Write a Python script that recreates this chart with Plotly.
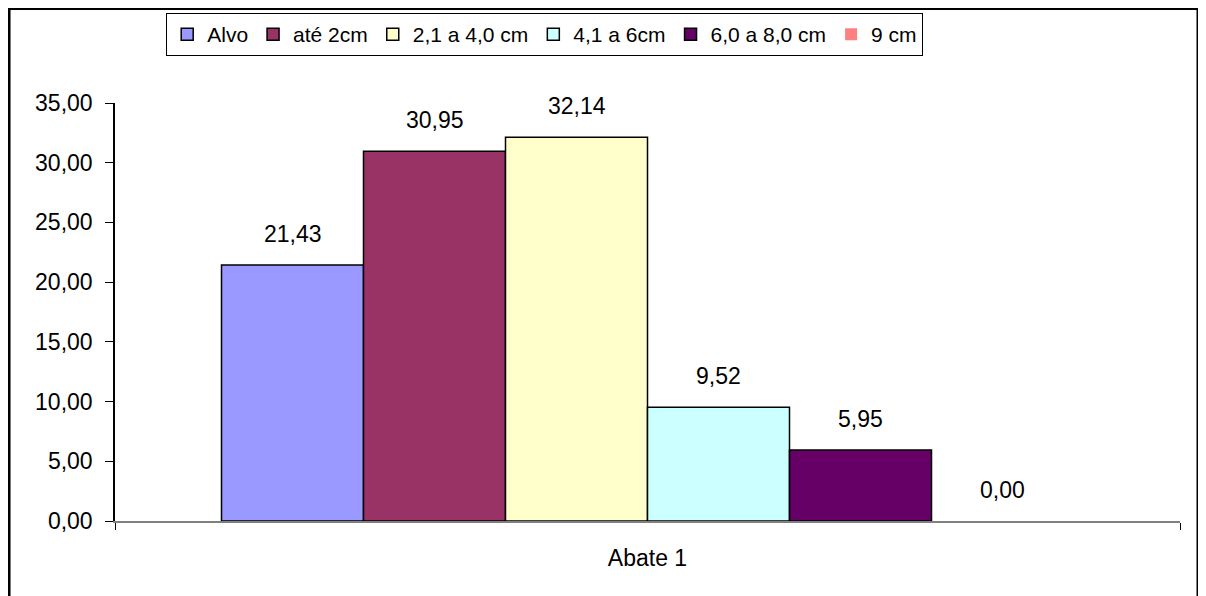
import plotly.graph_objects as go

# data
categories = ["Abate 1"]
series_names = ["Alvo", "até 2cm", "2,1 a 4,0 cm", "4,1 a 6cm", "6,0 a 8,0 cm", "9 cm"]
series_values = [21.43, 30.95, 32.14, 9.52, 5.95, 0.00]
series_colors = ["#9999FF", "#993366", "#FFFFCC", "#CCFFFF", "#660066", "#FF8080"]

FONT = "Liberation Sans, Arial, sans-serif"

# page has an 8px body margin, so the figure is sized to fit the window
W, H = 1198, 588
ML, MR, MT, MB = 107, 26, 95, 75
plot_w = W - ML - MR
BARGAP = 0.2
bar_px = plot_w * (1 - BARGAP) / len(series_names)

fig = go.Figure()
for name, val, col in zip(series_names, series_values, series_colors):
    fig.add_trace(go.Bar(
        x=categories, y=[val], name=name,
        marker=dict(color=col, line=dict(color="black", width=1.5 if val > 0 else 0)),
    ))

# value labels above each bar
n = len(series_names)
for i, val in enumerate(series_values):
    fig.add_annotation(
        x=categories[0], y=val, xref="x", yref="y",
        text=f"{val:.2f}".replace(".", ","),
        showarrow=False, yanchor="bottom",
        xshift=(i - (n - 1) / 2) * bar_px, yshift=16,
        font=dict(size=23, color="black"),
    )

fig.update_layout(
    width=W, height=H,
    margin=dict(l=ML, r=MR, t=MT, b=MB, autoexpand=False),
    paper_bgcolor="white", plot_bgcolor="white",
    font=dict(family=FONT, size=23, color="black"),
    separators=",.",
    barmode="group", bargap=BARGAP, bargroupgap=0,
    showlegend=True,
    legend=dict(
        orientation="h", xref="container", yref="container",
        x=0.448, xanchor="center", y=0.9915, yanchor="top",
        bordercolor="black", borderwidth=1, bgcolor="white",
        font=dict(size=21), itemwidth=30, tracegroupgap=0,
    ),
    xaxis=dict(
        showline=True, linecolor="#808080", linewidth=1.5,
        ticks="outside", tickson="boundaries", ticklen=7, tickcolor="black",
        ticklabelstandoff=16,
        showgrid=False, automargin=False,
    ),
    yaxis=dict(
        range=[0, 35], dtick=5, tickformat=".2f",
        showline=True, linecolor="black", linewidth=1.5,
        ticks="outside", ticklen=8, tickcolor="black",
        ticklabelstandoff=8,
        showgrid=False, zeroline=False, automargin=False,
    ),
    shapes=[dict(
        type="rect", xref="paper", yref="paper",
        x0=-0.0995, x1=1.0169, y0=-0.5, y1=1.2261,
        line=dict(color="black", width=3), layer="below",
    )],
)

fig.write_html("out.html")
